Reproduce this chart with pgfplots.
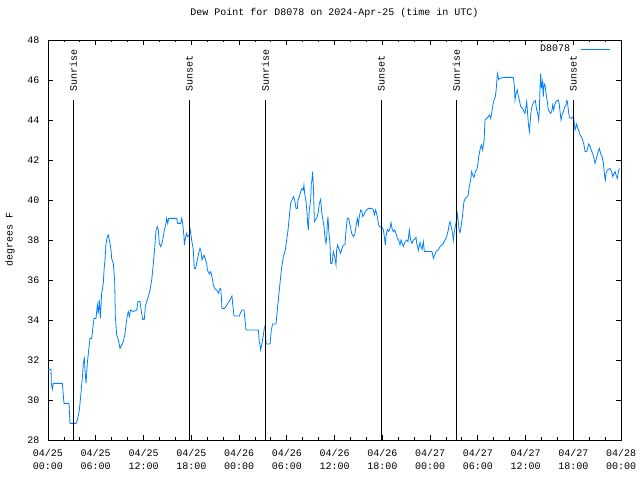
\documentclass[border=0pt]{standalone}
\usepackage{pgfplots}
\pgfplotsset{compat=1.18}
\usepackage{fontspec}
\setmainfont{Liberation Mono}
\definecolor{dew}{RGB}{0,128,255}
\begin{document}
\fontsize{10bp}{12bp}\selectfont
\begin{tikzpicture}[x=1bp,y=1bp]
\useasboundingbox (0,0) rectangle (640,480);
\begin{axis}[
  at={(48bp,40bp)}, anchor=south west,
  scale only axis, width=573bp, height=400bp,
  xmin=0, xmax=72, ymin=28, ymax=48,
  xtick={0,6,...,72},
  xticklabels={{04/25\\00:00},{04/25\\06:00},{04/25\\12:00},{04/25\\18:00},{04/26\\00:00},{04/26\\06:00},{04/26\\12:00},{04/26\\18:00},{04/27\\00:00},{04/27\\06:00},{04/27\\12:00},{04/27\\18:00},{04/28\\00:00}},
  minor x tick num=2,
  ytick={28,30,...,48}, minor y tick num=0,
  tick pos=both, ticklabel pos=left,
  tick align=inside, major tick length=5bp, minor tick length=2.5bp,
  tick style={black, line width=0.8bp},
  axis line style={line width=0.8bp},
  /pgf/number format/assume math mode=true,
  ticklabel style={font=\fontsize{10bp}{13bp}\selectfont},
  xticklabel style={align=center, yshift=-6bp},
  yticklabel style={xshift=-5bp},
  title={Dew Point for D8078 on 2024-Apr-25 (time in UTC)},
  title style={at={(axis description cs:0.5,1)}, anchor=center, yshift=21bp, font=\fontsize{10bp}{12bp}\selectfont},
  ylabel={degrees F},
  ylabel style={at={(axis description cs:-0.0663,0.5)}, anchor=center, font=\fontsize{10bp}{12bp}\selectfont},
  legend style={draw=none, fill=none, at={(axis description cs:0.981,0.977)}, anchor=east, font=\fontsize{10bp}{12bp}\selectfont, inner sep=0pt},
  legend plot pos=right,
  legend cell align=right,
  legend image code/.code={\path (0bp,0bp); \draw[#1] (8bp,0bp) -- (37bp,0bp);},
]
\addplot[dew, line width=0.8bp] coordinates {
(0.00,31.53) (0.38,31.53) (0.42,30.83) (0.54,30.53) (0.67,30.83) (1.80,30.83) (2.01,29.83) (2.64,29.83)
(2.76,28.83) (3.52,28.83) (3.69,29.0) (3.94,29.5) (4.10,30.17) (4.23,30.75) (4.36,31.33) (4.44,31.83)
(4.57,32.08) (4.65,31.5) (4.78,30.83) (4.86,31.33) (4.94,31.83) (5.07,32.33) (5.28,33.08) (5.49,33.08)
(5.61,33.5) (5.78,34.08) (6.03,34.08) (6.20,34.75) (6.32,34.33) (6.45,35.0) (6.58,34.08) (6.74,35.33)
(6.95,35.83) (7.04,36.5) (7.16,37.0) (7.29,37.83) (7.46,38.17) (7.58,38.25) (7.66,38.08) (7.79,37.83)
(7.92,37.5) (8.00,37.08) (8.21,36.83) (8.38,35.92) (8.46,34.17) (8.63,33.25) (8.84,33.0) (9.05,32.58)
(9.26,32.75) (9.47,32.92) (9.68,33.33) (9.80,33.75) (9.97,34.25) (10.09,34.42) (10.22,34.17) (10.39,34.5)
(10.72,34.42) (11.14,34.5) (11.31,34.92) (11.56,34.92) (11.77,34.33) (11.90,34.03) (12.10,34.03) (12.23,34.67)
(12.40,34.92) (12.61,35.17) (12.82,35.5) (13.03,36.0) (13.24,36.83) (13.45,37.83) (13.57,38.5) (13.74,38.67)
(13.86,38.5) (13.99,37.83) (14.16,37.67) (14.32,37.83) (14.49,38.17) (14.62,38.5) (14.83,38.83) (14.91,39.08)
(15.04,38.83) (15.16,39.08) (16.17,39.08) (16.29,38.83) (16.67,38.83) (16.80,39.08) (16.92,38.83) (17.09,38.17)
(17.13,37.75) (17.26,38.08) (17.42,38.33) (17.55,38.17) (17.76,38.25) (17.88,38.5) (18.05,38.0) (18.26,37.5)
(18.38,36.58) (18.55,36.58) (18.76,37.0) (19.02,37.5)
(19.10,37.58) (19.23,37.42) (19.35,37.0) (19.60,37.25) (19.94,36.83) (20.03,36.5) (20.27,36.3) (20.44,36.42)
(20.60,36.17) (20.78,35.75) (20.94,35.58) (21.19,35.5) (21.45,35.33) (21.53,35.53) (21.70,35.58) (21.78,35.17)
(21.86,34.58) (22.20,34.58) (22.87,35.0) (23.12,35.2) (23.20,34.83) (23.37,34.2) (24.04,34.2) (24.21,34.37)
(24.38,34.5) (24.63,34.5) (24.71,34.17) (24.88,33.5) (26.43,33.5) (26.55,32.92) (26.64,32.75) (26.72,32.5)
(26.85,32.75) (27.06,33.25) (27.18,33.58) (27.31,33.75) (27.39,32.8) (27.90,32.8) (28.06,33.5) (28.23,33.8)
(28.65,33.8) (28.82,34.5) (28.98,35.17) (29.15,35.83) (29.32,36.5) (29.57,37.17) (29.82,37.5) (29.99,38.0)
(30.16,38.5) (30.32,39.17) (30.49,39.83) (30.66,40.0) (30.83,40.17) (31.00,40.0) (31.16,39.58) (31.33,39.58)
(31.41,40.0) (31.58,40.17) (31.75,40.42) (31.92,40.58) (32.08,40.5) (32.16,40.75) (32.25,40.33) (32.42,39.92)
(32.54,39.42) (32.63,38.83) (32.71,38.5) (32.83,39.5) (33.00,40.0) (33.09,40.83) (33.17,41.0) (33.25,41.42)
(33.35,40.67) (33.47,38.92) (33.60,39.0) (33.76,39.08) (33.93,39.33) (34.10,39.83) (34.26,40.03) (34.39,39.42)
(34.51,39.08) (34.68,38.67) (34.81,38.08) (34.93,37.83) (35.02,38.17) (35.10,38.83) (35.18,39.17) (35.27,38.5)
(35.43,37.83) (35.52,36.83) (35.69,36.83) (35.85,37.42) (36.02,37.17) (36.19,36.75) (36.27,37.5) (36.40,37.75)
(36.52,37.58) (36.69,37.42)
(36.77,37.33) (36.94,37.58) (37.11,37.75) (37.32,37.75) (37.45,38.5) (37.61,39.08) (37.78,39.08) (37.95,38.75)
(38.16,38.33) (38.37,38.17) (38.53,38.25) (38.70,38.67) (38.87,39.08) (39.00,38.75) (39.12,39.17) (39.29,39.5)
(39.46,39.42) (39.54,39.17) (39.71,39.25) (39.87,39.42) (40.04,39.5) (40.25,39.58) (40.67,39.58) (40.88,39.5)
(41.01,39.25) (41.17,39.5) (41.38,39.17) (41.51,38.83) (41.63,38.67) (41.97,38.63) (42.14,38.5) (42.26,38.17)
(42.39,37.75) (42.47,38.17) (42.64,38.53) (42.81,38.42) (42.97,38.58) (43.10,38.87) (43.22,38.58) (43.39,38.42)
(43.56,38.5) (43.73,38.33) (43.90,38.08) (44.06,38.0) (44.23,37.75) (44.36,38.0) (44.52,37.83) (44.65,37.67)
(44.78,37.83) (44.90,37.92) (45.07,38.0) (45.24,37.92) (45.40,38.5) (45.49,38.17) (45.57,38.0) (45.74,37.83)
(45.91,38.0) (46.08,38.03) (46.24,38.13) (46.33,37.83) (46.45,37.67) (46.53,37.47) (46.66,37.7) (46.74,37.87)
(46.87,37.67) (47.00,37.53) (47.16,37.92) (47.29,37.42) (47.83,37.42) (48.25,37.42) (48.42,37.08) (48.55,37.2)
(48.76,37.42) (49.05,37.5) (49.26,37.67) (49.47,37.75) (49.68,37.83) (49.89,38.0) (50.09,38.17) (50.30,38.5)
(50.43,38.83) (50.51,38.92) (50.64,38.7) (50.85,38.3) (50.93,37.97) (51.06,38.42) (51.19,38.7) (51.35,39.03)
(51.44,39.3) (51.52,39.03) (51.69,38.42) (51.77,38.37) (51.90,38.67) (52.02,39.0) (52.11,39.33) (52.27,39.92)
(52.44,40.08) (52.77,40.2) (52.94,40.67) (53.11,41.0) (53.24,41.42) (53.36,41.25) (53.53,41.13) (53.70,41.42)
(53.87,41.5) (54.00,41.75) (54.12,42.17) (54.28,42.5)
(54.45,42.75) (54.62,42.5) (54.70,42.75) (54.79,42.92) (54.91,44.0) (55.12,44.08) (55.33,44.17) (55.46,44.25)
(55.62,44.08) (55.75,44.33) (55.87,44.67) (56.04,45.0) (56.21,45.17) (56.29,45.42) (56.38,45.83) (56.46,46.33)
(56.63,46.03) (56.80,46.08) (57.22,46.13) (58.47,46.13) (58.60,45.67) (58.68,45.0) (58.81,45.33) (58.98,45.5)
(59.10,45.17) (59.23,45.0) (59.39,44.67) (59.64,44.58) (59.81,44.42) (59.94,44.33) (60.15,44.92) (60.23,44.5)
(60.36,43.83) (60.48,43.42) (60.57,43.83) (60.69,44.42) (60.86,44.75) (61.07,44.92) (61.24,44.97) (61.40,44.5)
(61.53,44.33) (61.65,44.0) (61.74,44.5) (61.82,45.58) (61.91,46.33) (61.99,45.58) (62.12,45.92) (62.24,45.17)
(62.33,45.83) (62.45,45.75) (62.58,45.33) (62.74,44.92) (62.87,44.5) (63.00,44.42) (63.16,44.33) (63.29,44.42)
(63.41,44.75) (63.54,44.5) (63.66,44.75) (63.83,44.92) (64.00,44.97) (64.13,45.0) (64.25,44.75) (64.34,44.42)
(64.46,44.0) (64.59,44.25) (64.75,44.42) (64.92,44.63) (65.09,44.75) (65.17,44.97) (65.26,44.92) (65.38,44.5)
(65.51,44.13) (65.80,44.08) (66.01,44.17) (66.09,43.97) (66.22,43.5) (66.35,43.67) (66.43,43.8) (66.56,43.58)
(66.68,43.5) (66.85,43.25) (67.02,43.17) (67.18,43.0) (67.35,42.75) (67.48,42.42) (67.69,42.42) (67.81,42.58)
(67.94,42.8) (68.11,42.67) (68.32,42.42) (68.44,42.33) (68.61,42.08) (68.74,41.83) (68.86,42.0) (69.07,42.33)
(69.28,42.58) (69.49,42.25) (69.62,42.17) (69.79,41.83) (69.87,41.5) (69.95,41.17) (70.04,41.0) (70.12,41.33)
(70.29,41.5) (70.62,41.58) (70.83,41.42) (70.96,41.17) (71.12,41.33) (71.25,41.42) (71.37,41.25) (71.54,41.08)
(71.67,41.42) (71.79,41.58)
};
\addlegendentry{D8078}
\addplot[black, line width=0.8bp, forget plot] coordinates {(3.18,28) (3.18,45)};
\addplot[black, line width=0.8bp, forget plot] coordinates {(17.76,28) (17.76,45)};
\addplot[black, line width=0.8bp, forget plot] coordinates {(27.31,28) (27.31,45)};
\addplot[black, line width=0.8bp, forget plot] coordinates {(41.88,28) (41.88,45)};
\addplot[black, line width=0.8bp, forget plot] coordinates {(51.31,28) (51.31,45)};
\addplot[black, line width=0.8bp, forget plot] coordinates {(66.01,28) (66.01,45)};
\node[rotate=90, anchor=west, inner sep=0pt] at (axis cs:3.18,45.4) {Sunrise};
\node[rotate=90, anchor=west, inner sep=0pt] at (axis cs:17.76,45.4) {Sunset};
\node[rotate=90, anchor=west, inner sep=0pt] at (axis cs:27.31,45.4) {Sunrise};
\node[rotate=90, anchor=west, inner sep=0pt] at (axis cs:41.88,45.4) {Sunset};
\node[rotate=90, anchor=west, inner sep=0pt] at (axis cs:51.31,45.4) {Sunrise};
\node[rotate=90, anchor=west, inner sep=0pt] at (axis cs:66.01,45.4) {Sunset};
\end{axis}
\end{tikzpicture}
\end{document}
